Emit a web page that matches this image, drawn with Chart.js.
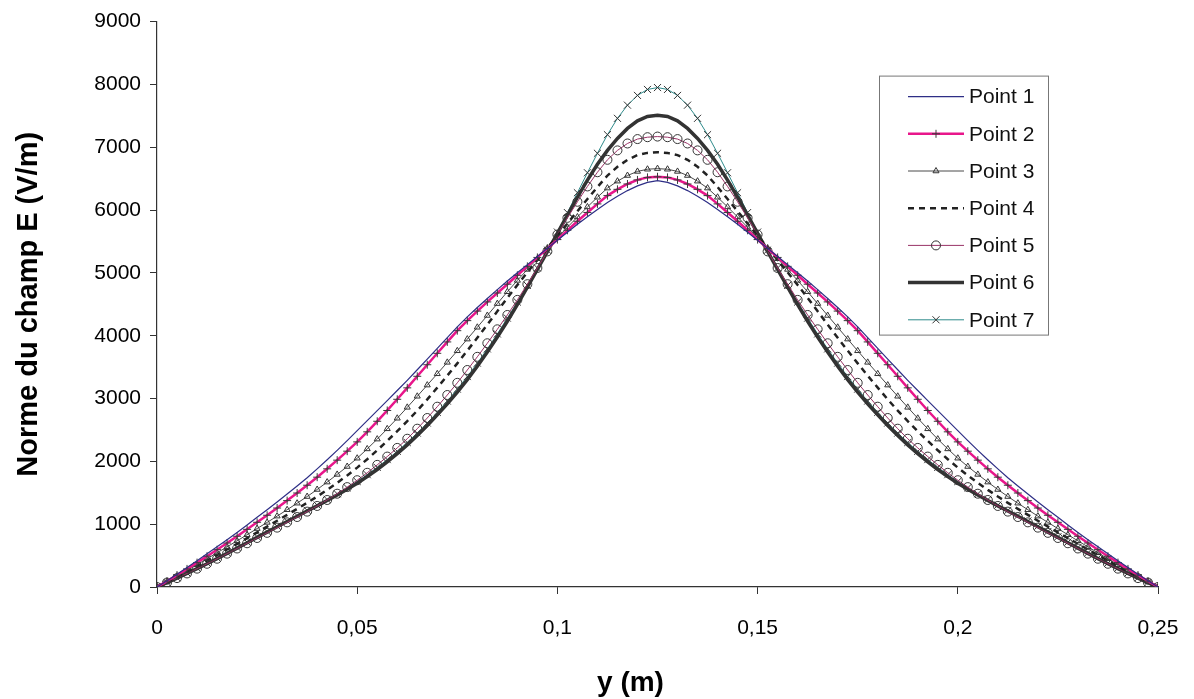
<!DOCTYPE html>
<html>
<head>
<meta charset="utf-8">
<script src="https://cdn.jsdelivr.net/npm/chart.js@4.4.1/dist/chart.umd.min.js"></script>
<style>
  html, body { margin: 0; padding: 0; background: #fff; }
  #wrap { width: 1194px; height: 699px; }
</style>
</head>
<body>
<div id="wrap"><canvas id="chart" width="1194" height="699"></canvas></div>
<script>
// positions along y (m)
const xs = [0, 0.0025, 0.005, 0.0075, 0.01, 0.0125, 0.015, 0.0175, 0.02, 0.0225,
  0.025, 0.0275, 0.03, 0.0325, 0.035, 0.0375, 0.04, 0.0425, 0.045, 0.0475,
  0.05, 0.0525, 0.055, 0.0575, 0.06, 0.0625, 0.065, 0.0675, 0.07, 0.0725,
  0.075, 0.0775, 0.08, 0.0825, 0.085, 0.0875, 0.09, 0.0925, 0.095, 0.0975,
  0.1, 0.1025, 0.105, 0.1075, 0.11, 0.1125, 0.115, 0.1175, 0.12, 0.1225,
  0.125, 0.1275, 0.13, 0.1325, 0.135, 0.1375, 0.14, 0.1425, 0.145, 0.1475,
  0.15, 0.1525, 0.155, 0.1575, 0.16, 0.1625, 0.165, 0.1675, 0.17, 0.1725,
  0.175, 0.1775, 0.18, 0.1825, 0.185, 0.1875, 0.19, 0.1925, 0.195, 0.1975,
  0.2, 0.2025, 0.205, 0.2075, 0.21, 0.2125, 0.215, 0.2175, 0.22, 0.2225,
  0.225, 0.2275, 0.23, 0.2325, 0.235, 0.2375, 0.24, 0.2425, 0.245, 0.2475, 0.25];

const point1 = [0, 100, 204, 310, 418, 530, 640, 753, 869, 988, 1110, 1230, 1353, 1479, 1608, 1740, 1880, 2025, 2175, 2330,
  2490, 2648, 2807, 2967, 3128, 3290, 3458, 3628, 3799, 3970, 4140, 4300, 4450, 4593, 4733, 4870, 5002, 5132, 5262, 5391,
  5520, 5648, 5773, 5893, 6010, 6120, 6220, 6310, 6385, 6440, 6470,
  6440, 6385, 6310, 6220, 6120, 6010, 5893, 5773, 5648, 5520, 5391, 5262, 5132, 5002, 4870, 4733, 4593, 4450, 4300, 4140,
  3970, 3799, 3628, 3458, 3290, 3128, 2967, 2807, 2648, 2490, 2330, 2175, 2025, 1880, 1740, 1608, 1479, 1353, 1230, 1110,
  988, 869, 753, 640, 530, 418, 310, 204, 100, 0];

const point2 = [0, 94, 190, 288, 388, 490, 594, 700, 808, 918, 1030, 1142, 1257, 1375, 1496, 1620, 1748, 1881, 2019, 2162,
  2310, 2470, 2638, 2810, 2988, 3170, 3354, 3538, 3720, 3901, 4080, 4240, 4392, 4538, 4680, 4820, 4962, 5104, 5246, 5388,
  5530, 5678, 5822, 5962, 6098, 6230, 6330, 6415, 6480, 6520, 6530,
  6520, 6480, 6415, 6330, 6230, 6098, 5962, 5822, 5678, 5530, 5388, 5246, 5104, 4962, 4820, 4680, 4538, 4392, 4240, 4080,
  3901, 3720, 3538, 3354, 3170, 2988, 2810, 2638, 2470, 2310, 2162, 2019, 1881, 1748, 1620, 1496, 1375, 1257, 1142, 1030,
  918, 808, 700, 594, 490, 388, 288, 190, 94, 0];

const point3 = [0, 86, 174, 264, 356, 450, 544, 639, 735, 832, 930, 1028, 1128, 1230, 1334, 1440, 1552, 1670, 1792, 1918,
  2050, 2198, 2354, 2518, 2686, 2860, 3036, 3214, 3394, 3576, 3760, 3946, 4134, 4322, 4511, 4700, 4880, 5055, 5225, 5393,
  5560, 5726, 5890, 6050, 6204, 6350, 6460, 6550, 6615, 6650, 6660,
  6650, 6615, 6550, 6460, 6350, 6204, 6050, 5890, 5726, 5560, 5393, 5225, 5055, 4880, 4700, 4511, 4322, 4134, 3946, 3760,
  3576, 3394, 3214, 3036, 2860, 2686, 2518, 2354, 2198, 2050, 1918, 1792, 1670, 1552, 1440, 1334, 1230, 1128, 1028, 930,
  832, 735, 639, 544, 450, 356, 264, 174, 86, 0];

const point4 = [0, 80, 162, 246, 332, 420, 508, 597, 687, 778, 870, 962, 1055, 1149, 1244, 1340, 1440, 1546, 1658, 1776,
  1900, 2034, 2176, 2326, 2480, 2640, 2808, 2986, 3174, 3364, 3560, 3762, 3968, 4178, 4389, 4600, 4808, 5010, 5206, 5398,
  5590, 5786, 5982, 6176, 6366, 6550, 6690, 6800, 6875, 6910, 6920,
  6910, 6875, 6800, 6690, 6550, 6366, 6176, 5982, 5786, 5590, 5398, 5206, 5010, 4808, 4600, 4389, 4178, 3968, 3762, 3560,
  3364, 3174, 2986, 2808, 2640, 2480, 2326, 2176, 2034, 1900, 1776, 1658, 1546, 1440, 1340, 1244, 1149, 1055, 962, 870,
  778, 687, 597, 508, 420, 332, 246, 162, 80, 0];

const point5 = [0, 70, 142, 216, 292, 370, 450, 531, 613, 696, 780, 862, 945, 1029, 1114, 1200, 1290, 1385, 1485, 1590,
  1700, 1818, 1944, 2076, 2214, 2360, 2520, 2690, 2870, 3056, 3250, 3454, 3664, 3880, 4102, 4330, 4570, 4820, 5078, 5342,
  5610, 5876, 6132, 6376, 6602, 6800, 6950, 7060, 7130, 7160, 7170,
  7160, 7130, 7060, 6950, 6800, 6602, 6376, 6132, 5876, 5610, 5342, 5078, 4820, 4570, 4330, 4102, 3880, 3664, 3454, 3250,
  3056, 2870, 2690, 2520, 2360, 2214, 2076, 1944, 1818, 1700, 1590, 1485, 1385, 1290, 1200, 1114, 1029, 945, 862, 780,
  696, 613, 531, 450, 370, 292, 216, 142, 70, 0];

const point6 = [0, 70, 142, 216, 292, 370, 452, 535, 619, 704, 790, 874, 958, 1042, 1126, 1210, 1292, 1377, 1465, 1556,
  1650, 1756, 1870, 1992, 2122, 2260, 2410, 2570, 2740, 2916, 3100, 3300, 3514, 3740, 3978, 4230, 4496, 4772, 5054, 5340,
  5630, 5920, 6204, 6476, 6730, 6950, 7140, 7300, 7420, 7490, 7510,
  7490, 7420, 7300, 7140, 6950, 6730, 6476, 6204, 5920, 5630, 5340, 5054, 4772, 4496, 4230, 3978, 3740, 3514, 3300, 3100,
  2916, 2740, 2570, 2410, 2260, 2122, 1992, 1870, 1756, 1650, 1556, 1465, 1377, 1292, 1210, 1126, 1042, 958, 874, 790,
  704, 619, 535, 452, 370, 292, 216, 142, 70, 0];

const point7 = [0, 72, 146, 222, 300, 380, 462, 545, 629, 714, 800, 884, 968, 1052, 1136, 1220, 1304, 1392, 1484, 1580,
  1680, 1788, 1904, 2028, 2160, 2300, 2450, 2610, 2780, 2960, 3150, 3350, 3564, 3790, 4028, 4280, 4536, 4802, 5078, 5362,
  5650, 5960, 6276, 6594, 6904, 7200, 7460, 7670, 7825, 7920, 7950,
  7920, 7825, 7670, 7460, 7200, 6904, 6594, 6276, 5960, 5650, 5362, 5078, 4802, 4536, 4280, 4028, 3790, 3564, 3350, 3150,
  2960, 2780, 2610, 2450, 2300, 2160, 2028, 1904, 1788, 1680, 1580, 1484, 1392, 1304, 1220, 1136, 1052, 968, 884, 800,
  714, 629, 545, 462, 380, 300, 222, 146, 72, 0];

const FONT = 'Liberation Sans, Arial, sans-serif';
const xTitle = 'y (m)';

function pts(ys) {
  return xs.map((x, i) => ({ x: x, y: ys[i] }));
}

// legend drawn inside the plot area, like the original, plus the x axis title
const insideLegend = {
  id: 'insideLegend',
  afterDatasetsDraw(chart) {
    const ctx = chart.ctx, area = chart.chartArea;
    const left = area.right - 279, top = area.top + 54, w = 169, h = 259;
    ctx.save();
    ctx.fillStyle = '#fff';
    ctx.fillRect(left, top, w, h);
    ctx.strokeStyle = '#777';
    ctx.lineWidth = 1;
    ctx.strokeRect(left + 0.5, top + 0.5, w, h);
    chart.data.datasets.forEach((ds, i) => {
      const y = top + 21 + i * 37.2;
      ctx.beginPath();
      ctx.setLineDash(ds.borderDash || []);
      ctx.strokeStyle = ds.borderColor;
      ctx.lineWidth = ds.borderWidth;
      ctx.moveTo(left + 29, y);
      ctx.lineTo(left + 85, y);
      ctx.stroke();
      ctx.setLineDash([]);
      if (ds.pointRadius > 0) {
        ctx.strokeStyle = ds.pointBorderColor;
        ctx.fillStyle = ds.pointBackgroundColor;
        ctx.lineWidth = ds.pointBorderWidth;
        Chart.helpers.drawPoint(ctx, { pointStyle: ds.pointStyle, radius: ds.pointRadius, rotation: 0, borderWidth: ds.pointBorderWidth }, left + 57, y);
      }
      ctx.fillStyle = '#111';
      ctx.font = '21px ' + FONT;
      ctx.textBaseline = 'middle';
      ctx.fillText(ds.label, left + 90, y + 1);
    });

    // x title sits a bit left of the plot centre in the original
    ctx.fillStyle = '#000';
    ctx.font = 'bold 28px ' + FONT;
    ctx.textAlign = 'center';
    ctx.textBaseline = 'middle';
    ctx.fillText(xTitle, area.left + (area.right - area.left) * 0.473, area.bottom + 96);
    ctx.restore();
  }
};

new Chart(document.getElementById('chart'), {
  type: 'line',
  data: {
    datasets: [
      { label: 'Point 1', data: pts(point1), borderColor: '#2e2e86', borderWidth: 1.2, pointRadius: 0 },
      { label: 'Point 2', data: pts(point2), borderColor: '#e8168b', borderWidth: 2.5, pointStyle: 'cross', pointRadius: 4,
        pointBorderColor: '#3a3a3a', pointBackgroundColor: 'transparent', pointBorderWidth: 1 },
      { label: 'Point 3', data: pts(point3), borderColor: '#4a4a4a', borderWidth: 1, pointStyle: 'triangle', pointRadius: 3.5,
        pointBorderColor: '#333', pointBackgroundColor: 'transparent', pointBorderWidth: 1 },
      { label: 'Point 4', data: pts(point4), borderColor: '#222', borderWidth: 2.5, borderDash: [6, 5], pointRadius: 0 },
      { label: 'Point 5', data: pts(point5), borderColor: '#993366', borderWidth: 1, pointStyle: 'circle', pointRadius: 4.5,
        pointBorderColor: '#333', pointBackgroundColor: 'transparent', pointBorderWidth: 1 },
      { label: 'Point 6', data: pts(point6), borderColor: '#333', borderWidth: 3.5, pointRadius: 0 },
      { label: 'Point 7', data: pts(point7), borderColor: '#2e8b8b', borderWidth: 1, pointStyle: 'crossRot', pointRadius: 5,
        pointBorderColor: '#333', pointBackgroundColor: 'transparent', pointBorderWidth: 1 }
    ]
  },
  options: {
    responsive: false,
    animation: false,
    layout: { padding: { left: 0, right: 36, top: 20, bottom: 0 } },
    elements: { line: { tension: 0 }, point: { hoverRadius: 4 } },
    plugins: {
      legend: { display: false },
      tooltip: { enabled: false }
    },
    scales: {
      x: {
        type: 'linear',
        min: 0,
        max: 0.25,
        afterFit: function(scale) {
          scale.height = 112;
          scale.paddingLeft = 0;
          scale.paddingRight = 0;
        },
        border: { color: '#333', width: 1.2 },
        grid: { display: true, drawOnChartArea: false, drawTicks: true, tickLength: 7, color: '#333' },
        ticks: {
          stepSize: 0.05,
          padding: 22,
          maxRotation: 0,
          minRotation: 0,
          color: '#000',
          font: { family: FONT, size: 21 },
          callback: function(v) { return String(Math.round(v * 100) / 100).replace('.', ','); }
        },
        title: { display: false }
      },
      y: {
        min: 0,
        max: 9000,
        afterFit: function(scale) { scale.width = 157; },
        border: { color: '#333', width: 1.2 },
        grid: { display: true, drawOnChartArea: false, drawTicks: true, tickLength: 7, color: '#333' },
        ticks: {
          stepSize: 1000,
          padding: 9,
          color: '#000',
          font: { family: FONT, size: 21 },
          callback: function(v) { return String(v); }
        },
        title: {
          display: true,
          text: 'Norme du champ E (V/m)',
          color: '#000',
          font: { family: FONT, size: 29, weight: 'bold' },
          padding: { top: 12, bottom: 0 }
        }
      }
    }
  },
  plugins: [insideLegend]
});
</script>
</body>
</html>
